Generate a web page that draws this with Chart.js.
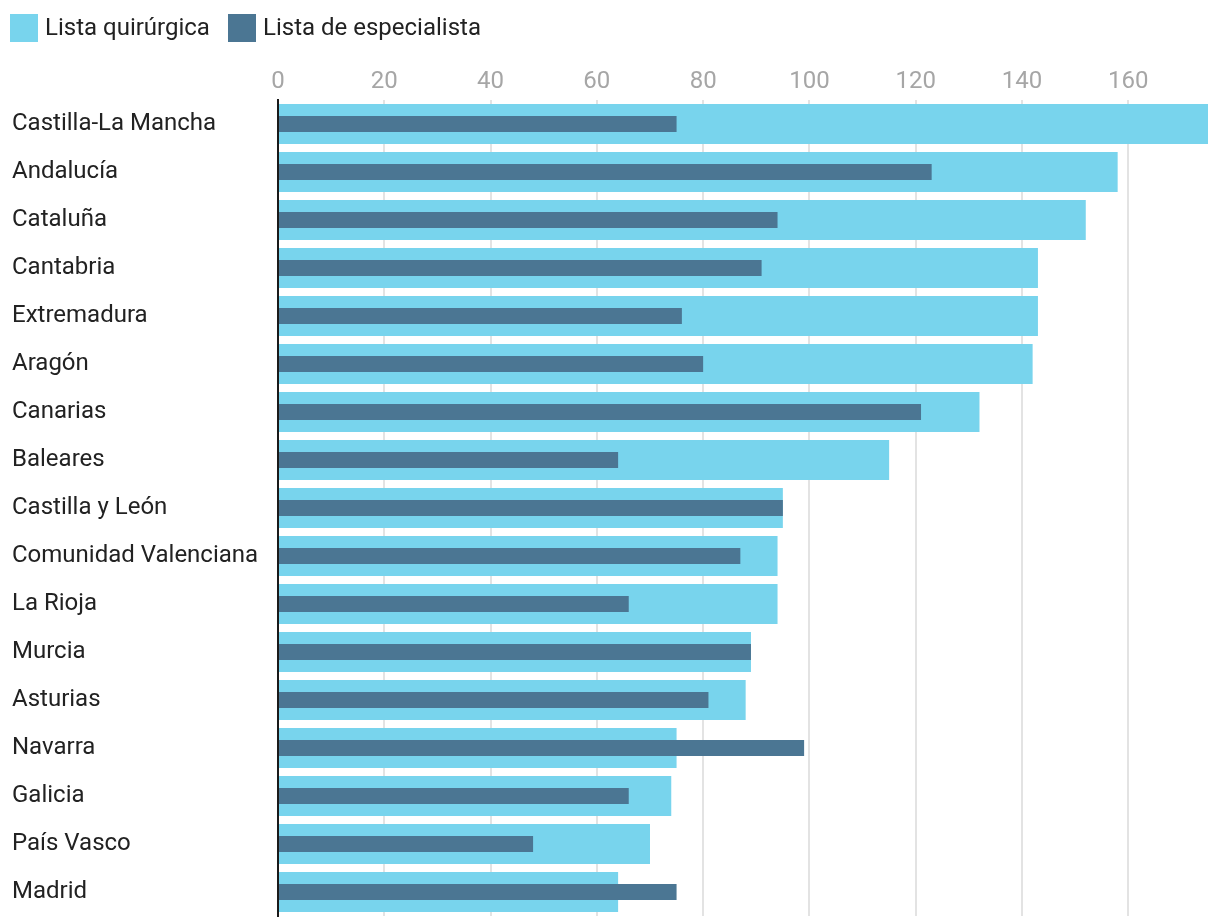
<!DOCTYPE html>
<html>
<head>
<meta charset="utf-8">
<script src="https://cdn.jsdelivr.net/npm/chart.js@4.4.1/dist/chart.umd.min.js"></script>
<style>
  html, body { margin: 0; padding: 0; background: #fff; }
  #wrap { position: relative; width: 1220px; height: 924px; }
  #legend { position: absolute; left: 0; top: 0; font-family: Roboto, sans-serif; font-size: 24px; color: #222; }
  .item { position: absolute; top: 14px; white-space: nowrap; }
  .box { position: absolute; top: 0; width: 28px; height: 28px; }
  .lbl { position: absolute; top: -1px; line-height: 28px; }
</style>
</head>
<body>
<div id="wrap">
  <canvas id="c" width="1220" height="924"></canvas>
  <div id="legend"></div>
</div>
<script>
const categories = ["Castilla-La Mancha","Andalucía","Cataluña","Cantabria","Extremadura","Aragón","Canarias","Baleares","Castilla y León","Comunidad Valenciana","La Rioja","Murcia","Asturias","Navarra","Galicia","País Vasco","Madrid"];
const seriesNames = ["Lista quirúrgica","Lista de especialista"];
const quirurgica  = [175,158,152,143,143,142,132,115,95,94,94,89,88,75,74,70,64];
const especialista = [75,123,94,91,76,80,121,64,95,87,66,89,81,99,66,48,75];
const tickValues = [0,20,40,60,80,100,120,140,160];
const colors = ["#78d4ed","#4b7693"];

// HTML legend
const leg = document.getElementById('legend');
const legPos = [{box:10, text:45},{box:228, text:263}];
seriesNames.forEach((n,i)=>{
  const it = document.createElement('div'); it.className='item';
  const b = document.createElement('div'); b.className='box'; b.style.left=legPos[i].box+'px'; b.style.background=colors[i];
  const t = document.createElement('div'); t.className='lbl'; t.style.left=legPos[i].text+'px'; t.textContent=n;
  it.appendChild(b); it.appendChild(t); leg.appendChild(it);
});

new Chart(document.getElementById('c'), {
  type: 'bar',
  data: {
    labels: categories,
    datasets: [
      { label: seriesNames[0], data: quirurgica, backgroundColor: colors[0], barPercentage: 40/48, categoryPercentage: 1, grouped: false, order: 2 },
      { label: seriesNames[1], data: especialista, backgroundColor: colors[1], barPercentage: 16/48, categoryPercentage: 1, grouped: false, order: 1 }
    ]
  },
  options: {
    indexAxis: 'y',
    responsive: false,
    animation: false,
    devicePixelRatio: 1,
    layout: { padding: { left: 12, top: 55, right: 12, bottom: 8 } },
    plugins: { legend: { display: false }, tooltip: { enabled: false } },
    scales: {
      x: {
        position: 'top',
        min: 0, max: 175,
        afterBuildTicks: (s) => { s.ticks = tickValues.map(v => ({ value: v })); },
        afterFit: (s) => { s.height = 45; s.paddingLeft = 0; s.paddingRight = 0; },
        grid: { color: '#e3e3e3', lineWidth: 2, drawTicks: false },
        border: { display: false },
        ticks: { color: '#a6a6a6', font: { family: 'Roboto', size: 24 }, padding: 4, maxRotation: 0 }
      },
      y: {
        afterFit: (s) => { s.width = 266; s.paddingTop = 0; s.paddingBottom = 0; },
        grid: { display: false },
        border: { display: true, color: '#1a1a1a', width: 2 },
        ticks: { color: '#222', font: { family: 'Roboto', size: 24 }, crossAlign: 'far', padding: 8 }
      }
    }
  }
});
</script>
</body>
</html>
